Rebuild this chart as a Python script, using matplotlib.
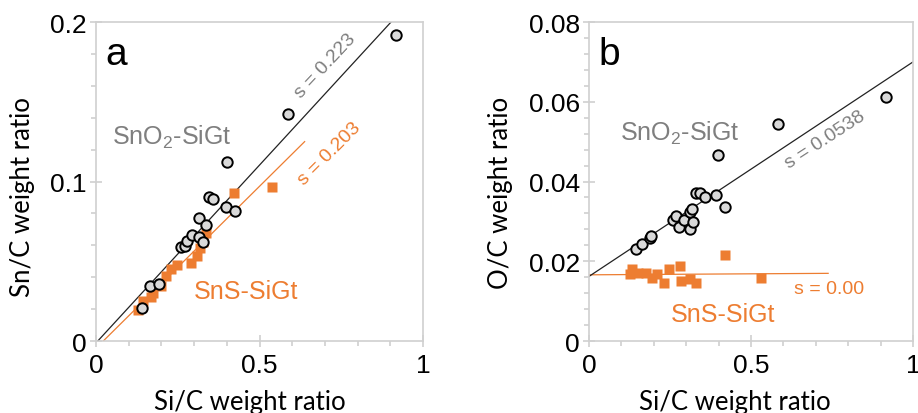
import numpy as np
import matplotlib
matplotlib.use("Agg")
import matplotlib.pyplot as plt
from matplotlib.ticker import MultipleLocator, FuncFormatter

# panel a: Sn/C vs Si/C
sno2_a_x = [0.142, 0.165, 0.192, 0.261, 0.272, 0.279, 0.295, 0.315, 0.326, 0.314, 0.335, 0.346, 0.357, 0.396, 0.425, 0.400, 0.586, 0.918]
sno2_a_y = [0.0210, 0.0346, 0.0356, 0.0587, 0.0593, 0.0626, 0.0666, 0.0652, 0.0623, 0.0769, 0.0730, 0.0901, 0.0888, 0.0842, 0.0816, 0.1120, 0.1425, 0.1916]
sns_a_x = [0.129, 0.145, 0.167, 0.175, 0.200, 0.213, 0.229, 0.249, 0.290, 0.310, 0.317, 0.326, 0.336, 0.422, 0.537]
sns_a_y = [0.0195, 0.0253, 0.0273, 0.0304, 0.0348, 0.0410, 0.0450, 0.0477, 0.0492, 0.0534, 0.0580, 0.0620, 0.0680, 0.0928, 0.0968]

# panel b: O/C vs Si/C
sno2_b_x = [0.144, 0.163, 0.187, 0.190, 0.259, 0.270, 0.278, 0.293, 0.311, 0.311, 0.317, 0.321, 0.331, 0.344, 0.357, 0.393, 0.421, 0.399, 0.582, 0.916]
sno2_b_y = [0.0230, 0.0244, 0.0259, 0.0263, 0.0303, 0.0313, 0.0287, 0.0303, 0.0280, 0.0324, 0.0332, 0.0298, 0.0370, 0.0372, 0.0362, 0.0366, 0.0337, 0.0467, 0.0545, 0.0612]
sns_b_x = [0.126, 0.133, 0.151, 0.177, 0.195, 0.210, 0.230, 0.247, 0.282, 0.285, 0.311, 0.331, 0.419, 0.532]
sns_b_y = [0.0167, 0.0180, 0.0170, 0.0170, 0.0159, 0.0167, 0.0146, 0.0181, 0.0188, 0.0151, 0.0155, 0.0145, 0.0216, 0.0159]

# fit lines (slope, intercept, x range)
fit_sno2_a = (0.223, -0.0012, 0.0, 1.0)
fit_sns_a = (0.203, -0.0045, 0.022, 0.638)
fit_sno2_b = (0.0538, 0.0162, 0.0, 1.0)
fit_sns_b = (0.0005, 0.0166, 0.0, 0.738)

ORANGE = '#ED7D31'
GREY_TXT = '#7f7f7f'
SPINE = '#d0d0d0'
TICK_FONT = 'Liberation Sans'
LABEL_FONT = 'Lato'

plt.rcParams['mathtext.fontset'] = 'custom'
plt.rcParams['mathtext.rm'] = TICK_FONT
plt.rcParams['mathtext.it'] = TICK_FONT

fig = plt.figure(figsize=(9.18, 4.14), dpi=100)
ax_a = fig.add_axes([0.1046, 0.1739, 0.3562, 0.7705])
ax_b = fig.add_axes([0.6416, 0.1739, 0.3530, 0.7705])


def fmt(v, pos):
    return ('%.2f' % v).rstrip('0').rstrip('.') if v != 0 else '0'


def style_axes(ax, ymax, ymajor, yminor, ylabel, xlab_pos, ylab_pos):
    ax.set_xlim(0, 1)
    ax.set_ylim(0, ymax)
    for s in ax.spines.values():
        s.set_color(SPINE)
        s.set_linewidth(1.2)
    ax.xaxis.set_major_locator(MultipleLocator(0.5))
    ax.xaxis.set_minor_locator(MultipleLocator(0.1))
    ax.yaxis.set_major_locator(MultipleLocator(ymajor))
    ax.yaxis.set_minor_locator(MultipleLocator(yminor))
    ax.xaxis.set_major_formatter(FuncFormatter(fmt))
    ax.yaxis.set_major_formatter(FuncFormatter(fmt))
    ax.tick_params(which='major', direction='inout', length=9, width=1.2, color=SPINE,
                   labelsize=19, pad=2)
    ax.tick_params(axis='x', which='major', pad=4)
    ax.tick_params(which='minor', direction='out', length=3.5, width=1.2, color=SPINE)
    for lab in ax.get_xticklabels() + ax.get_yticklabels():
        lab.set_fontfamily(TICK_FONT)
    ax.set_xlabel('Si/C weight ratio', fontsize=18.5, fontfamily=LABEL_FONT, va='center')
    ax.set_ylabel(ylabel, fontsize=18.5, fontfamily=LABEL_FONT, va='center')
    ax.xaxis.set_label_coords(*xlab_pos)
    ax.yaxis.set_label_coords(*ylab_pos)


def fit_line(ax, fit, color):
    k, b, x0, x1 = fit
    xs = np.array([x0, x1])
    ax.plot(xs, k * xs + b, color=color, lw=0.9, zorder=2)


for ax, cx, cy, sx, sy, f1, f2 in [
        (ax_a, sno2_a_x, sno2_a_y, sns_a_x, sns_a_y, fit_sno2_a, fit_sns_a),
        (ax_b, sno2_b_x, sno2_b_y, sns_b_x, sns_b_y, fit_sno2_b, fit_sns_b)]:
    ax.plot(sx, sy, 's', color=ORANGE, ms=6.5, mec='none', zorder=3)
    fit_line(ax, f2, ORANGE)
    fit_line(ax, f1, '#222222')
    ax.plot(cx, cy, 'o', mfc='#d9d9d9', mec='black', mew=1.4, ms=7.5, zorder=4)

style_axes(ax_a, 0.2, 0.1, 0.02, 'Sn/C weight ratio', (0.471, -0.19), (-0.225, 0.455))
style_axes(ax_b, 0.08, 0.02, 0.004, 'O/C weight ratio', (0.45, -0.19), (-0.272, 0.467))

# panel a text
ax_a.text(0.03, 0.955, 'a', transform=ax_a.transAxes, fontsize=28, fontfamily=TICK_FONT,
          va='top', ha='left')
ax_a.text(0.232, 0.128, 'SnO$_2$-SiGt', fontsize=18, color=GREY_TXT, fontfamily=TICK_FONT,
          ha='center', va='center')
ax_a.text(0.70, 0.173, 's = 0.223', fontsize=14, color=GREY_TXT, fontfamily=TICK_FONT,
          rotation=47, ha='center', va='center')
ax_a.text(0.715, 0.118, 's = 0.203', fontsize=14, color=ORANGE, fontfamily=TICK_FONT,
          rotation=45, ha='center', va='center')
ax_a.text(0.459, 0.0315, 'SnS-SiGt', fontsize=18, color=ORANGE, fontfamily=TICK_FONT,
          ha='center', va='center')

# panel b text
ax_b.text(0.03, 0.955, 'b', transform=ax_b.transAxes, fontsize=28, fontfamily=TICK_FONT,
          va='top', ha='left')
ax_b.text(0.281, 0.0522, 'SnO$_2$-SiGt', fontsize=18, color=GREY_TXT, fontfamily=TICK_FONT,
          ha='center', va='center')
ax_b.text(0.73, 0.0505, 's = 0.0538', fontsize=14, color=GREY_TXT, fontfamily=TICK_FONT,
          rotation=33, ha='center', va='center')
ax_b.text(0.74, 0.0131, 's = 0.00', fontsize=14, color=ORANGE, fontfamily=TICK_FONT,
          ha='center', va='center')
ax_b.text(0.415, 0.0067, 'SnS-SiGt', fontsize=18, color=ORANGE, fontfamily=TICK_FONT,
          ha='center', va='center')

fig.savefig('out.png', dpi=100)
